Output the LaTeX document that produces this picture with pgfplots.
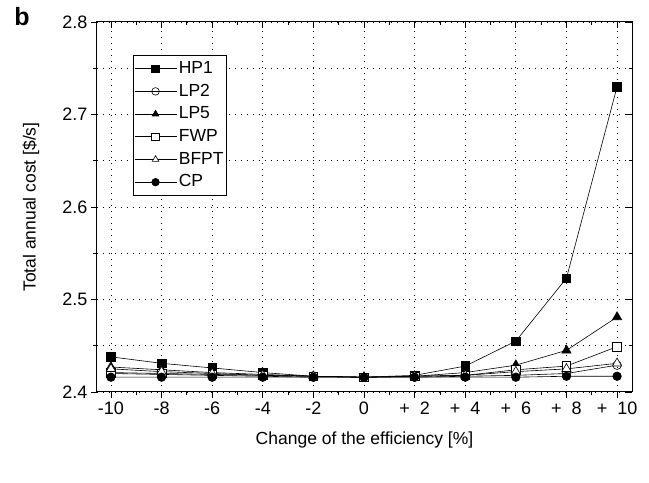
\documentclass[border=0pt]{standalone}
\usepackage{pgfplots}
\pgfplotsset{compat=1.18}
\usepackage{pgfplotstable}
\usepackage{fontspec}
\setmainfont{Liberation Sans}

\pgfplotstableread{
x HP1 LP2 LP5 FWP BFPT CP
-10 2.438 2.420 2.427 2.421 2.425 2.416
-8 2.431 2.419 2.424 2.420 2.422 2.416
-6 2.426 2.418 2.421 2.419 2.420 2.416
-4 2.421 2.417 2.419 2.418 2.418 2.416
-2 2.417 2.416 2.417 2.417 2.417 2.416
0 2.416 2.416 2.416 2.416 2.416 2.416
2 2.418 2.416 2.417 2.417 2.417 2.416
4 2.428 2.417 2.421 2.418 2.418 2.416
6 2.455 2.418 2.429 2.424 2.422 2.416
8 2.523 2.420 2.445 2.428 2.425 2.417
10 2.730 2.429 2.481 2.449 2.431 2.417
}\data

\begin{document}
\begin{tikzpicture}
\pgfplotsset{
  common/.style={
    scale only axis, width=535pt, height=370pt,
    xmin=-10.55, xmax=10.59, ymin=2.4, ymax=2.8,
    xtick={-10,-8,...,10}, minor x tick num=1,
    ytick={2.4,2.5,2.6,2.7,2.8}, minor y tick num=1,
    major tick length=6pt, minor tick length=3.5pt,
    every tick/.style={black, line width=0.8pt},
    every minor tick/.style={black, line width=0.8pt},
  }
}
\begin{axis}[common,
  axis line style={line width=1pt},
  xtick pos=left, ytick pos=left, tick align=outside,
  xticklabels={-10,-8,-6,-4,-2,0,+\ \ 2,+\ \ 4,+\ \ 6,+\ \ 8,+\ \ 10},
  xticklabel style={text height=13pt, text depth=1pt},
  yticklabel style={/pgf/number format/.cd, fixed, fixed zerofill, precision=1, assume math mode=true},
  ticklabel style={font=\fontsize{18}{20}\selectfont},
  xmajorgrids, ymajorgrids, yminorgrids,
  major grid style={black, line width=0.8pt, dash pattern=on 1pt off 5pt},
  minor grid style={black, line width=0.8pt, dash pattern=on 1pt off 5pt},
  xlabel={Change of the efficiency [\%]},
  ylabel={Total annual cost [\$/s]},
  every axis x label/.style={at={(axis description cs:0.5,-0.13)}, anchor=center, font=\fontsize{17.5}{20}\selectfont},
  every axis y label/.style={at={(axis description cs:-0.1234,0.5)}, rotate=90, anchor=center, font=\fontsize{17.5}{20}\selectfont},
  legend style={at={(axis description cs:0.067,0.911)}, anchor=north west,
    draw=black, line width=0.8pt, font=\fontsize{17.5}{20}\selectfont,
    inner xsep=1pt, inner ysep=2pt,
    nodes={text height=12.5pt, text depth=3pt, inner ysep=3.6pt, inner xsep=2pt}},
  legend cell align=left,
  legend image code/.code={\draw[mark repeat=2, mark phase=2, #1, mark size=3.8pt] plot coordinates {(0pt,0pt) (21pt,0pt) (42pt,0pt)};},
  every axis plot/.append style={black, line width=0.6pt, mark size=4.3pt, mark options={solid, line width=0.7pt}},
]
\addplot[mark=square*, mark options={fill=black}] table[x=x, y=HP1] {\data};
\addlegendentry{HP1}
\addplot[mark=o, mark options={fill=white}] table[x=x, y=LP2] {\data};
\addlegendentry{LP2}
\addplot[mark=triangle*, mark size=5.3pt, mark options={fill=black}] table[x=x, y=LP5] {\data};
\addlegendentry{LP5}
\addplot[mark=square*, mark options={fill=white}] table[x=x, y=FWP] {\data};
\addlegendentry{FWP}
\addplot[mark=triangle*, mark size=5.3pt, mark options={fill=white}] table[x=x, y=BFPT] {\data};
\addlegendentry{BFPT}
\addplot[mark=*, mark options={fill=black}] table[x=x, y=CP] {\data};
\addlegendentry{CP}
\end{axis}
\begin{axis}[common,
  axis line style={draw=none},
  xtick pos=right, ytick pos=right, tick align=inside,
  xticklabels={}, yticklabels={},
]
\end{axis}
\path (current axis.south west) ++(-97pt,-91pt) coordinate (bl);
\path (current axis.north east) ++(17pt,22pt) coordinate (tr);
\node[font=\bfseries\fontsize{25}{27}\selectfont] at ([xshift=-75pt, yshift=5pt]current axis.north west) {b};
\path[use as bounding box] (bl) rectangle (tr);
\end{tikzpicture}
\end{document}
